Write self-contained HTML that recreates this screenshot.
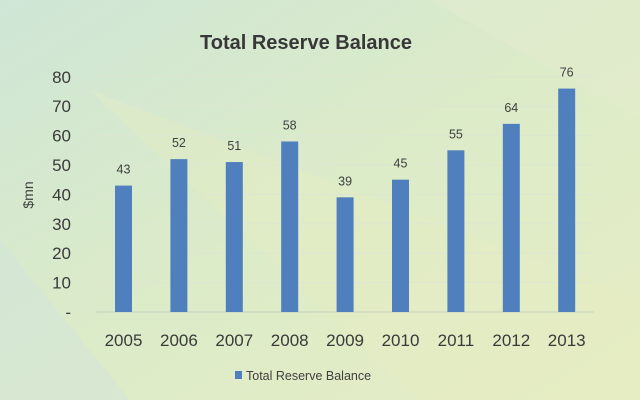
<!DOCTYPE html>
<html><head><meta charset="utf-8"><style>
html,body{margin:0;padding:0;width:640px;height:400px;overflow:hidden}
body{font-family:"Liberation Sans",sans-serif}
</style></head><body>
<svg width="640" height="400" xmlns="http://www.w3.org/2000/svg">
<defs>
<linearGradient id="bg" x1="0" y1="0" x2="1" y2="1">
<stop offset="0" stop-color="#cfe6d6"/><stop offset="0.5" stop-color="#dcebc8"/><stop offset="1" stop-color="#e6edc4"/>
</linearGradient>
</defs>
<rect width="640" height="400" fill="url(#bg)"/>
<polygon points="90,90 640,300 640,400 420,400" fill="#e8eec0" opacity="0.35"/>
<polygon points="0,240 130,400 0,400" fill="#d2e4dc" opacity="0.5"/>
<polygon points="430,0 640,0 640,120" fill="#e4ecd0" opacity="0.5"/>
<text x="306" y="49" text-anchor="middle" font-size="20" font-weight="600" fill="#383838">Total Reserve Balance</text>
<text transform="translate(33,195) rotate(-90)" text-anchor="middle" font-size="14" fill="#404040">$mn</text>
<g id="grid"></g><g id="bars"></g>
<rect x="235" y="371" width="7" height="8" fill="#4f7fbd"/>
<text x="246" y="380" font-size="12.5" fill="#404040">Total Reserve Balance</text>
</svg>
<script>
const categories=["2005","2006","2007","2008","2009","2010","2011","2012","2013"];
const values=[43,52,51,58,39,45,55,64,76];
const yTicks=[0,10,20,30,40,50,60,70,80];
const yTickLabels=["-","10","20","30","40","50","60","70","80"];
const NS="http://www.w3.org/2000/svg";
const y0=312,pxPer=29.4/10,x0=123.5,step=55.4,bw=17;
const y=v=>y0-v*pxPer, x=i=>x0+i*step;
const grid=document.getElementById('grid'),bars=document.getElementById('bars');
function mk(tag,attrs,parent,txt){const e=document.createElementNS(NS,tag);for(const k in attrs)e.setAttribute(k,attrs[k]);if(txt!==undefined)e.textContent=txt;parent.appendChild(e);return e;}
yTicks.forEach((t,i)=>{
 const l=mk('line',{x1:96,x2:594,y1:y(t),y2:y(t),stroke:i==0?'#c8d3c0':'#dde6d2','stroke-width':1},grid);
 
 
 const tx=mk('text',{x:71,y:y(t)+6,'text-anchor':'end','font-size':17,fill:'#3a3a3a'},grid,yTickLabels[i]);
 
 
});
categories.forEach((c,i)=>{
 const r=mk('rect',{x:x(i)-bw/2,y:y(values[i]),width:bw,height:y0-y(values[i]),fill:'#4f7fbd'},bars);
 
 
 const v=mk('text',{x:x(i),y:y(values[i])-12,'text-anchor':'middle','font-size':12.5,fill:'#404040'},bars,String(values[i]));
 
 
 const xl=mk('text',{x:x(i),y:346,'text-anchor':'middle','font-size':17,fill:'#3a3a3a'},bars,c);
 
 
});
</script>
</body></html>
